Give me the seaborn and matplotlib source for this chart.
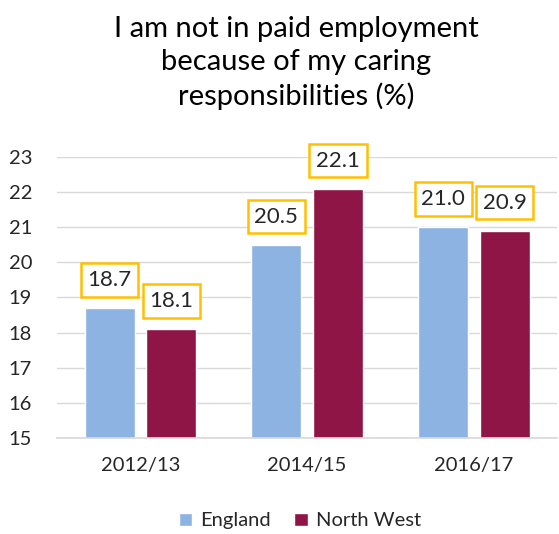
import pandas as pd
import seaborn as sns
import matplotlib.pyplot as plt

years = ["2012/13", "2014/15", "2016/17"]
england = [18.7, 20.5, 21.0]
north_west = [18.1, 22.1, 20.9]

df = pd.DataFrame({
    "Year": years * 2,
    "Region": ["England"] * 3 + ["North West"] * 3,
    "Value": england + north_west,
})

sns.set_theme(style="white")
plt.rcParams["font.family"] = ["Lato", "DejaVu Sans"]

fig = plt.figure(figsize=(5.59, 5.34), dpi=100)
ax = fig.add_axes([0.102, 0.18, 0.895, 0.526])

palette = {"England": "#8DB3E2", "North West": "#8E1545"}
sns.barplot(data=df, x="Year", y="Value", hue="Region", palette=palette,
            width=0.738, gap=0.19, ax=ax, saturation=1)

ax.set_ylim(15, 23)
ax.set_yticks(range(15, 24))
ax.yaxis.grid(True, color="#D9D9D9", linewidth=1)
ax.set_axisbelow(True)
for s in ["top", "right", "left"]:
    ax.spines[s].set_visible(False)
ax.spines["bottom"].set_color("#D9D9D9")
ax.set_xlabel("")
ax.set_ylabel("")
ax.tick_params(axis="both", labelsize=14.5, colors="#262626", length=0)
ax.tick_params(axis="y", pad=18)
ax.tick_params(axis="x", pad=14)

for cont in ax.containers:
    ax.bar_label(cont, fmt="%.1f", padding=13, fontsize=16, color="#262626",
                 bbox=dict(boxstyle="square,pad=0.3", fc="white", ec="#FFC000", lw=1.8))

fig.suptitle("I am not in paid employment\nbecause of my caring\nresponsibilities (%)",
             x=0.53, y=0.97, fontsize=21, color="#000000", linespacing=1.33)

ax.legend(loc="lower center", bbox_to_anchor=(0.485, -0.39), ncol=2, frameon=False,
          fontsize=14.5, handlelength=0.65, handleheight=0.65, handletextpad=0.4,
          columnspacing=1.2)

fig.savefig("out.png", dpi=100)
